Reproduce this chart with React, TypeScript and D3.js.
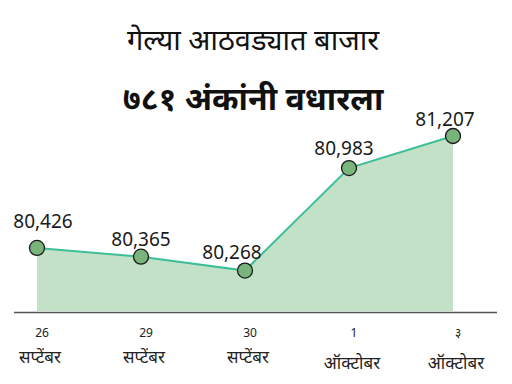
import React from "react";
import * as d3 from "d3";

const dates = ["26", "29", "30", "1", "३"];
const months = ["सप्टेंबर", "सप्टेंबर", "सप्टेंबर", "ऑक्टोबर", "ऑक्टोबर"];
const values = [80426, 80365, 80268, 80983, 81207];
const valueLabels = ["80,426", "80,365", "80,268", "80,983", "81,207"];
const title1 = "गेल्या आठवड्यात बाजार";
const title2 = "७८१ अंकांनी वधारला";

const labelDx = [6, 0, -13, -5, -8];
const labelDy = [-20, -11, -12, -13, -10];
const monthDy = [0, 0, 0, 6, 6];

export default function App() {
  const W = 512, H = 384;
  const x = d3.scalePoint<number>().domain(d3.range(values.length)).range([37, 453]);
  const y = d3.scaleLinear().domain([80000, 81207]).range([309, 136]);
  const base = 311;
  const area = d3.area<number>().x((_, i) => x(i)!).y0(base).y1((d) => y(d));
  const line = d3.line<number>().x((_, i) => x(i)!).y((d) => y(d));
  const font = "'Noto Sans', 'Noto Sans Devanagari', sans-serif";
  return (
    <svg width={W} height={H} style={{ position: "absolute", left: 0, top: 0, background: "#fff" }}>
      <rect width={W} height={H} fill="#fff" />
      <text x={253} y={50} textAnchor="middle" fontSize={29} fontFamily={font} fill="#111">{title1}</text>
      <text x={253} y={110} textAnchor="middle" fontSize={32} fontWeight="bold" fontFamily={font} fill="#111">{title2}</text>
      <path d={area(values)!} fill="#c3e1c6" />
      <line x1={14} x2={497} y1={312.5} y2={312.5} stroke="#555" strokeWidth={1.5} />
      <path d={line(values)!} fill="none" stroke="#3cbf98" strokeWidth={2} />
      {values.map((v, i) => (
        <g key={i}>
          <circle cx={x(i)} cy={y(v)} r={7.5} fill="#79b47c" stroke="#1a1a1a" strokeWidth={1.3} />
          <text x={x(i)! + labelDx[i]} y={y(v) + labelDy[i]} textAnchor="middle" fontSize={19} fontFamily={font} fill="#1a1a1a">{valueLabels[i]}</text>
        </g>
      ))}
      {dates.map((d, i) => (
        <g key={"d" + i}>
          <text x={x(i)! + 5} y={337} textAnchor="middle" fontSize={12} fontFamily={font} fill="#222">{d}</text>
          <text x={x(i)! + 3} y={363 + monthDy[i]} textAnchor="middle" fontSize={17} fontFamily={font} fill="#222">{months[i]}</text>
        </g>
      ))}
    </svg>
  );
}
